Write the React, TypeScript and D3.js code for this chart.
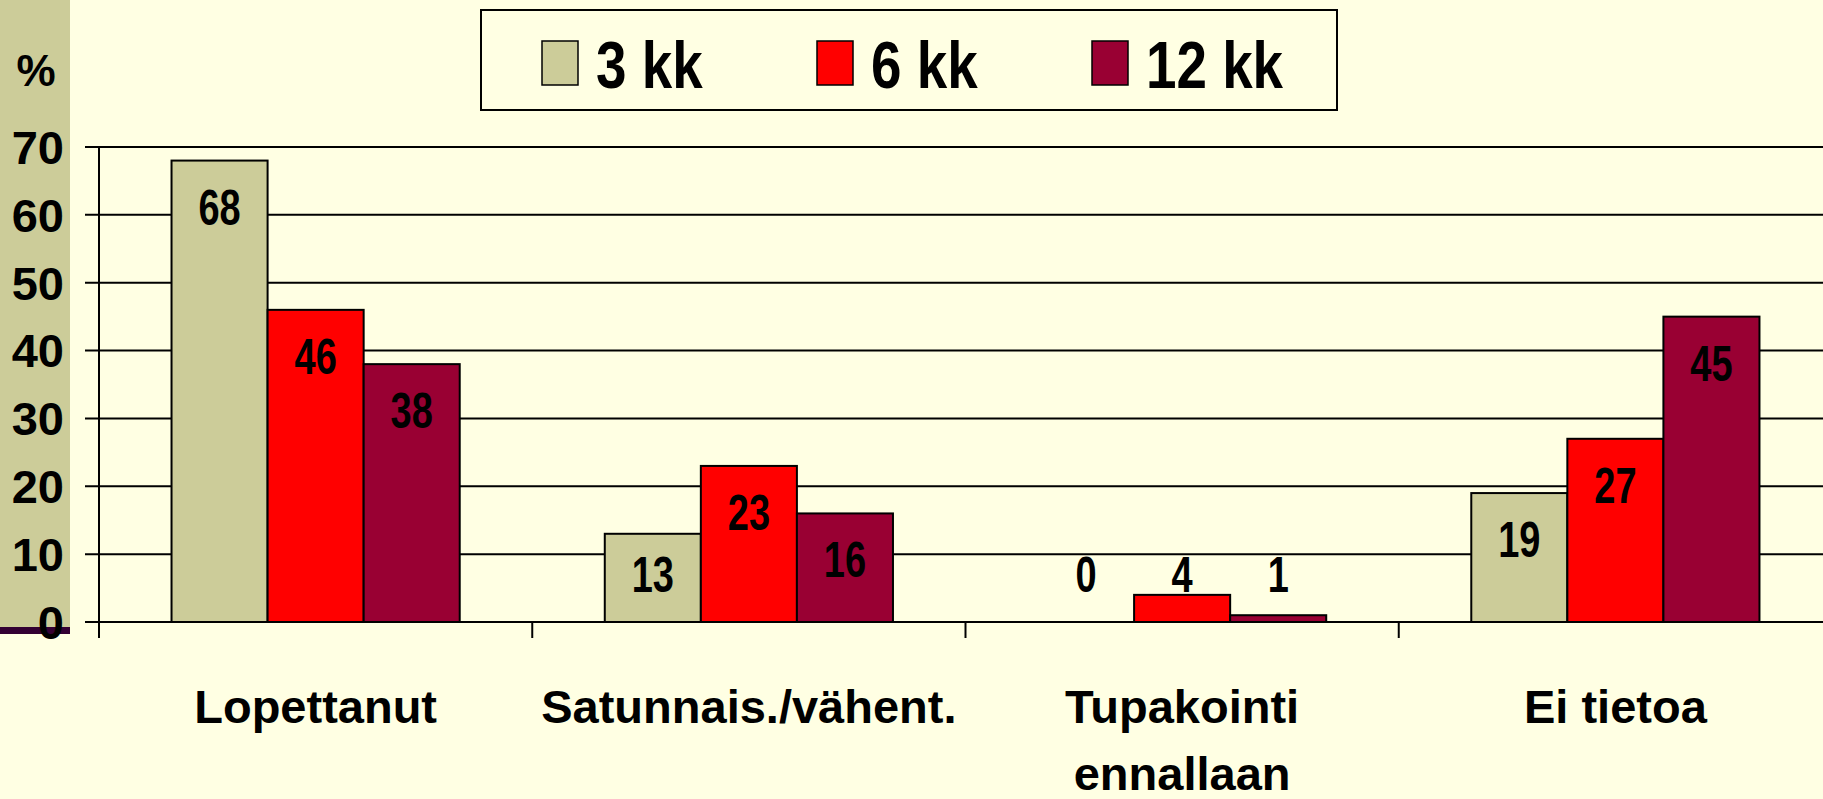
import React from "react";
import * as d3 from "d3";

const categories = ["Lopettanut", "Satunnais./vähent.", "Tupakointi|ennallaan", "Ei tietoa"];
const seriesNames = ["3 kk", "6 kk", "12 kk"];
const colors = ["#CCCC99", "#FF0000", "#990033"];
const kk3 = [68, 13, 0, 19];
const kk6 = [46, 23, 4, 27];
const kk12 = [38, 16, 1, 45];
const yTicks = [0, 10, 20, 30, 40, 50, 60, 70];

const W = 1823;
const H = 799;
const font = "'Liberation Sans', Arial, sans-serif";

export default function App() {
  const values = [kk3, kk6, kk12];
  const x = d3.scaleBand<string>().domain(categories).range([99, 1832]);
  const xi = d3
    .scaleBand<string>()
    .domain(seriesNames)
    .range([0, x.bandwidth()])
    .paddingOuter(0.755);
  const y = d3.scaleLinear().domain([0, 70]).range([622, 147]);

  return (
    <svg
      width={W}
      height={H}
      style={{ position: "absolute", left: 0, top: 0, display: "block" }}
    >
      <rect width={W} height={H} fill="#FFFFE3" />
      {/* left strip */}
      <rect x={0} y={0} width={70} height={634} fill="#CCCC99" />
      <rect x={0} y={627} width={70} height={7} fill="#330033" />

      {/* gridlines + y ticks */}
      {yTicks.map((t) => (
        <line key={t} x1={85} x2={W} y1={y(t)} y2={y(t)} stroke="#000" strokeWidth={2} />
      ))}
      <line x1={99} x2={99} y1={y(70)} y2={638} stroke="#000" strokeWidth={2} />
      {categories.slice(1).map((c) => (
        <line key={c} x1={x(c)} x2={x(c)} y1={y(0)} y2={638} stroke="#000" strokeWidth={2} />
      ))}

      {/* bars */}
      {values.map((vals, si) =>
        vals.map((v, ci) => {
          const bx = (x(categories[ci]) as number) + (xi(seriesNames[si]) as number);
          return (
            <rect
              key={`${si}-${ci}`}
              x={bx}
              y={y(v)}
              width={xi.bandwidth()}
              height={y(0) - y(v)}
              fill={colors[si]}
              stroke="#000"
              strokeWidth={2}
            />
          );
        })
      )}

      {/* bar labels (narrow bold) */}
      {values.map((vals, si) =>
        vals.map((v, ci) => {
          const bx = (x(categories[ci]) as number) + (xi(seriesNames[si]) as number);
          const lx = bx + xi.bandwidth() / 2;
          const ly = Math.min(y(v) + 64, 592);
          return (
            <text
              key={`l${si}-${ci}`}
              transform={`translate(${lx},${ly}) scale(0.76,1)`}
              textAnchor="middle"
              fontFamily={font}
              fontWeight="bold"
              fontSize={50}
              fill="#000"
            >
              {v}
            </text>
          );
        })
      )}

      {/* y tick labels */}
      {yTicks.map((t) => (
        <text
          key={`t${t}`}
          x={64}
          y={y(t)}
          dy="0.36em"
          textAnchor="end"
          fontFamily={font}
          fontWeight="bold"
          fontSize={47}
          fill="#000"
        >
          {t}
        </text>
      ))}
      <text x={36} y={86} textAnchor="middle" fontFamily={font} fontWeight="bold" fontSize={44} fill="#000">
        %
      </text>

      {/* category labels */}
      {categories.map((c) => {
        const cx = (x(c) as number) + x.bandwidth() / 2;
        return (
          <text key={c} x={cx} textAnchor="middle" fontFamily={font} fontWeight="bold" fontSize={47} fill="#000">
            {c.split("|").map((line, i) => (
              <tspan key={i} x={cx} y={723 + i * 67}>
                {line}
              </tspan>
            ))}
          </text>
        );
      })}

      {/* legend */}
      <rect x={481} y={10} width={856} height={100} fill="#FFFFE3" stroke="#000" strokeWidth={2} />
      {seriesNames.map((s, i) => (
        <g key={s} transform={`translate(${542 + i * 275},0)`}>
          <rect x={0} y={41} width={36} height={44} fill={colors[i]} stroke="#000" strokeWidth={1.5} />
          <text
            transform="translate(54,88) scale(0.83,1)"
            fontFamily={font}
            fontWeight="bold"
            fontSize={66}
            fill="#000"
          >
            {s}
          </text>
        </g>
      ))}
    </svg>
  );
}
